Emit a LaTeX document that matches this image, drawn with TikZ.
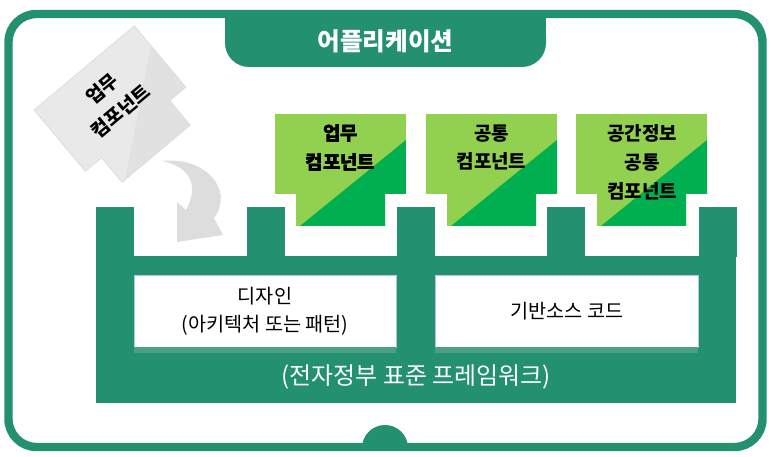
\documentclass[tikz,border=0pt]{standalone}
\usepackage{fontspec}
\setmainfont{Noto Sans CJK KR}
\usetikzlibrary{positioning}

\definecolor{frameGreen}{HTML}{23906F}
\definecolor{compLight}{HTML}{92D050}
\definecolor{compDark}{HTML}{00B050}
\definecolor{greyLight}{HTML}{E9E9E9}
\definecolor{greyDark}{HTML}{E1E1E1}
\definecolor{greyLine}{HTML}{DCDCDC}
\definecolor{boxLine}{HTML}{A9CCE3}
\definecolor{stripGreen}{HTML}{4BA083}

% puzzle piece: body 131x80 with a tab below, split in two colours
\newcommand{\compshape}[3]{%
  \begin{scope}
    \clip (0,0) -- (131,0) -- (131,80) -- (110,80) -- (110,112) -- (21,112) -- (21,80) -- (0,80) -- cycle;
    \fill[#1] (0,0) rectangle (131,112);
    \fill[#2] (25,112) -- (131,26) -- (131,112) -- cycle;
  \end{scope}
  \draw[#3, line width=0.5pt] (0,0) -- (131,0) -- (131,80) -- (110,80) -- (110,112) -- (21,112) -- (21,80) -- (0,80) -- cycle;}

\begin{document}
\begin{tikzpicture}[
      x=0.025cm, y=-0.025cm,
      frame/.style={draw=frameGreen, line width=0.21cm, rounded corners=0.7cm},
      comptext/.style={font=\fontsize{13.5}{20.5}\selectfont\bfseries, align=center, inner sep=0pt},
      boxnode/.style={draw=boxLine, fill=white, line width=0.6pt, minimum width=6.55cm, minimum height=1.8cm,
        font=\fontsize{14}{20}\selectfont, align=center},
      node distance=0.975cm
    ]
      \useasboundingbox (0,0) rectangle (771,457);

      % outer frame with title tab
      \draw[frame] (8.5,14) rectangle (762.5,447);
      \fill[frameGreen, rounded corners=0.6cm] (225,14) rectangle (546,67);
      \fill[frameGreen] (225,14) rectangle (546,45);
      \fill[frameGreen] (362,448) arc[start angle=180, end angle=0, radius=0.575cm];
      \node[text=white, font=\fontsize{17.5}{20}\selectfont\bfseries] (app) at (385.5,41) {어플리케이션};

      % framework block
      \fill[frameGreen] (96,256) rectangle (736,403);
      \foreach \x in {96,247,397,547,699}
        \fill[frameGreen] (\x,207) rectangle ++(37.5,50);

      \node[boxnode] (design) at (265,311) {디자인\\(아키텍처 또는 패턴)};
      \node[boxnode, right=of design] (code) {기반소스 코드};
      \fill[stripGreen] (design.south west) rectangle ([yshift=-0.15cm]design.south east);
      \fill[stripGreen] (code.south west) rectangle ([yshift=-0.15cm]code.south east);

      \node[text=white, font=\fontsize{17}{20}\selectfont] (framework) at (416,377) {(전자정부 표준 프레임워크)};

      % components
      \foreach \x in {275,426,576}
        \begin{scope}[shift={(\x,114)}]
          \compshape{compLight}{compDark}{draw=none}
        \end{scope}
      \node[comptext] (comp1) at (340.5,147.5) {업무\\컴포넌트};
      \node[comptext] (comp2) at (491.5,147.5) {공통\\컴포넌트};
      \node[comptext] (comp3) at (642,162) {공간정보\\공통\\컴포넌트};

      % component being plugged in
      \begin{scope}[shift={(34,110)}, rotate=40]
        \compshape{greyLight}{greyDark}{greyLine}
        \node[comptext, rotate=40] (newcomp) at (65.5,42) {업무\\컴포넌트};
      \end{scope}
      \fill[greyLight!95!black] (162,161) .. controls (205,156) and (235,190) .. (214,218)
        -- (223,235) -- (177,242) -- (177,202) -- (186,210)
        .. controls (197,190) and (195,168) .. cycle;
    \end{tikzpicture}
\end{document}
